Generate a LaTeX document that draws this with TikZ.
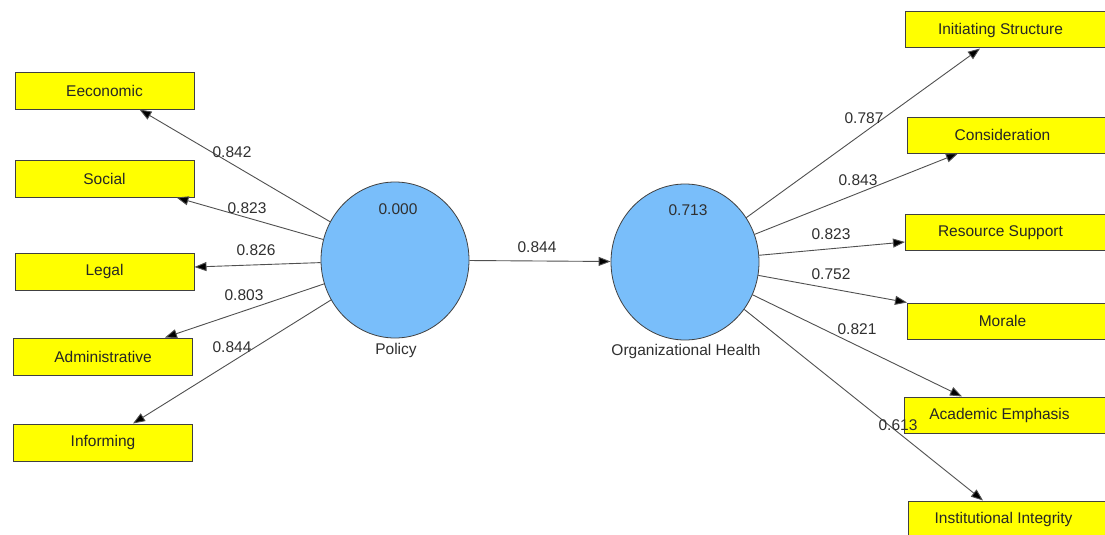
\documentclass[tikz,border=0pt]{standalone}
\usepackage{fontspec}
\setmainfont{Liberation Sans}
\usetikzlibrary{arrows.meta,shapes.geometric}
\definecolor{boxyellow}{RGB}{255,255,0}
\definecolor{lvblue}{RGB}{121,190,250}
\definecolor{edgegray}{RGB}{64,64,64}
\definecolor{linegray}{RGB}{80,80,80}
\definecolor{txtgray}{RGB}{48,48,48}
\newcommand{\rtext}[1]{\makebox[190pt][c]{#1}\hspace*{30pt}}
\begin{document}
\begin{tikzpicture}[x=1pt,y=-1pt,
 every node/.style={font=\fontsize{15.5}{18}\selectfont, text=txtgray},
 ind/.style={draw=edgegray, fill=boxyellow, line width=1pt, minimum width=179pt, minimum height=37pt, inner sep=0pt, text=black!85},
 rind/.style={ind, anchor=west, minimum height=36pt, minimum width=0pt},
 lv/.style={ellipse, draw=edgegray, fill=lvblue, line width=0.8pt, minimum width=148pt, minimum height=156pt, inner sep=0pt},
 load/.style={draw=linegray, line width=0.9pt, -{Triangle[length=12pt,width=9pt,fill=black]}},
 num/.style={inner sep=0pt}
]
\clip (0,0) rectangle (1105,535);
\fill[white] (0,0) rectangle (1105,535);

% latent variables
\node[lv] (pol) at (395,260) {};
\node[lv] (oh) at (685,262) {};
\node[num] (polr) at (398,209) {0.000};
\node[num] (ohr) at (688,210) {0.713};
\node[num] (poll) at (396,350) {Policy};
\node[num] (ohl) at (686,351) {Organizational Health};

% left indicators
\node[ind] (eco) at (104.5,90.5) {Eeconomic};
\node[ind] (soc) at (104.5,178.5) {Social};
\node[ind] (leg) at (104.5,271.5) {Legal};
\node[ind] (adm) at (103,356.5) {Administrative};
\node[ind] (inf) at (103,442.5) {Informing};

% right indicators
\node[rind] (is) at (905,30) {\rtext{Initiating Structure}};
\node[rind] (con) at (907,135) {\rtext{Consideration}};
\node[rind] (rs) at (905,232.5) {\rtext{Resource Support}};
\node[rind] (mor) at (907,321) {\rtext{Morale}};
\node[rind] (ae) at (904,415) {\rtext{Academic Emphasis}};
\node[rind] (ii) at (908,519) {\rtext{Institutional Integrity}};

% connectors
\draw[load] (pol) -- (oh);
\draw[load] (pol) -- ([xshift=125pt]eco.south west);
\draw[load] (pol) -- ([xshift=162pt]soc.south west);
\draw[load] (pol) -- ([yshift=4.5pt]leg.east);
\draw[load] (pol) -- ([xshift=152pt]adm.north west);
\draw[load] (pol) -- ([xshift=120pt]inf.north west);

\draw[load] (oh) -- ([xshift=75pt]is.south west);
\draw[load] (oh) -- ([xshift=51pt]con.south west);
\draw[load] (oh) -- ([yshift=-9.5pt]rs.west);
\draw[load] (oh) -- (mor.north west);
\draw[load] (oh) -- ([xshift=58pt]ae.north west);
\draw[load] (oh) -- ([xshift=75pt]ii.north west);

% loading labels
\node[num] (l1) at (232,152) {0.842};
\node[num] (l2) at (247,208) {0.823};
\node[num] (l3) at (256,250) {0.826};
\node[num] (l4) at (244,295) {0.803};
\node[num] (l5) at (232,347) {0.844};
\node[num] (pc) at (537,247) {0.844};
\node[num] (r1) at (864,118) {0.787};
\node[num] (r2) at (858,180) {0.843};
\node[num] (r3) at (831,234) {0.823};
\node[num] (r4) at (831,274) {0.752};
\node[num] (r5) at (857,329) {0.821};
\node[num] (r6) at (898,425) {0.613};
\end{tikzpicture}
\end{document}
